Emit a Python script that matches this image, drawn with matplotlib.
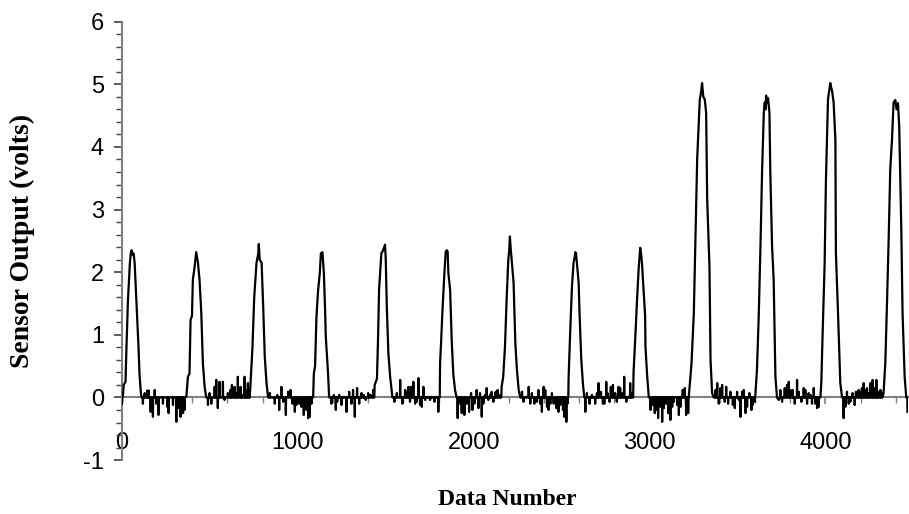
import numpy as np
import matplotlib
matplotlib.use("Agg")
import matplotlib.pyplot as plt
from matplotlib.ticker import MultipleLocator

plt.rcParams["axes.unicode_minus"] = False

# ---- peaks: vertices (data number, volts) ----
peak_x = [
    [0, 3, 6, 10, 20, 25, 34, 45, 50, 55, 60, 66, 72, 81, 94, 100, 108, 112],
    [366, 375, 384, 390, 398, 403, 413, 422, 432, 441, 451, 460, 470, 479],
    [722, 730, 742, 752, 765, 775, 778, 783, 794, 803, 812, 822, 831],
    [1087, 1091, 1098, 1102, 1106, 1115, 1125, 1131, 1140, 1148, 1155, 1159, 1166, 1172, 1178],
    [1435, 1437, 1450, 1456, 1462, 1475, 1485, 1496, 1500, 1506, 1515, 1525, 1538],
    [1807, 1809, 1815, 1822, 1833, 1841, 1848, 1852, 1856, 1866, 1875, 1884, 1894, 1903],
    [2157, 2159, 2168, 2178, 2188, 2197, 2202, 2206, 2210, 2216, 2227, 2237, 2246, 2256, 2265],
    [2538, 2540, 2550, 2559, 2568, 2575, 2578, 2582, 2587, 2597, 2602, 2612, 2621, 2629],
    [2907, 2909, 2919, 2928, 2938, 2947, 2952, 2957, 2966, 2975, 2977, 2987, 2996],
    [3223, 3239, 3252, 3261, 3271, 3286, 3292, 3299, 3306, 3314, 3322, 3328, 3341, 3347, 3356, 3365],
    [3602, 3611, 3621, 3631, 3640, 3650, 3655, 3660, 3663, 3668, 3674, 3682, 3687, 3697, 3706, 3716, 3725, 3735],
    [3972, 3977, 3984, 3996, 4003, 4015, 4022, 4028, 4033, 4038, 4047, 4057, 4060, 4072, 4085, 4095],
    [4330, 4332, 4341, 4350, 4360, 4369, 4379, 4388, 4398, 4405, 4413, 4420, 4432, 4439, 4451, 4460, 4466, 4467],
]
peak_y = [
    [-0.1, 0, 0.05, 0.2, 0.25, 0.76, 1.56, 2.15, 2.3, 2.35, 2.28, 2.3, 2.15, 1.6, 0.8, 0.35, 0.05, 0],
    [0.01, 0.33, 0.38, 1.24, 1.3, 1.88, 2.09, 2.32, 2.15, 1.88, 1.35, 0.55, 0.17, 0],
    [0, 0.17, 0.8, 1.6, 2.15, 2.3, 2.45, 2.2, 2.15, 1.45, 0.65, 0.23, 0],
    [0, 0.38, 0.5, 0.92, 1.29, 1.7, 1.99, 2.3, 2.32, 1.99, 1.4, 0.97, 0.65, 0.38, 0],
    [0, 0.2, 0.3, 0.92, 1.72, 2.3, 2.35, 2.44, 2.2, 1.45, 0.7, 0.33, 0],
    [0, 0.55, 0.9, 1.35, 1.96, 2.33, 2.35, 2.33, 1.99, 1.72, 0.92, 0.38, 0.12, 0],
    [0, 0.17, 0.33, 0.81, 1.61, 2.2, 2.35, 2.57, 2.4, 2.2, 1.83, 0.87, 0.44, 0.12, 0],
    [0, 0.33, 1.13, 1.77, 2.15, 2.25, 2.32, 2.3, 2.15, 1.83, 1.35, 0.6, 0.23, 0],
    [0, 0.39, 0.95, 1.5, 2.04, 2.39, 2.3, 2.15, 1.72, 1.3, 0.81, 0.33, 0],
    [0, 0.55, 1.35, 2.52, 3.8, 4.76, 4.85, 5.02, 4.8, 4.76, 4.55, 3.16, 2.09, 0.6, 0.07, 0],
    [0.04, 0.44, 1.29, 2.41, 3.59, 4.55, 4.71, 4.6, 4.82, 4.7, 4.78, 4.55, 3.59, 2.41, 1.88, 0.33, 0, -0.04],
    [0, 0.23, 0.97, 2.15, 3.43, 4.76, 4.9, 5.02, 4.95, 4.9, 4.71, 4.12, 2.31, 1.35, 0.23, 0],
    [0.05, 0.12, 0.55, 1.45, 2.52, 3.64, 4.12, 4.71, 4.75, 4.6, 4.7, 4.33, 2.68, 1.35, 0.33, 0, 0, -0.23],
]

# ---- noise spikes between the peaks ----
spike_x = [
    119, 129, 144, 152, 163, 176, 186, 195, 208, 233, 258, 265, 290, 309, 322, 333, 347, 356,
    489, 498, 508, 527, 536, 545, 555, 574, 583, 602, 617, 625, 640, 650, 659, 674, 682, 697, 706, 716, 725,
    841, 869, 883, 894, 907, 917, 932, 945, 958, 970, 983, 992, 1008, 1021, 1034, 1049, 1059, 1068, 1078,
    1191, 1205, 1216, 1224, 1235, 1248, 1261, 1277, 1292, 1305, 1314, 1324, 1337, 1349, 1362, 1375, 1386, 1400, 1413, 1428,
    1549, 1563, 1582, 1595, 1610, 1619, 1629, 1638, 1644, 1657, 1667, 1676, 1686, 1695, 1705, 1714, 1724, 1739, 1752, 1761, 1777, 1790, 1799,
    1909, 1922, 1932, 1947, 1960, 1974, 1985, 1993, 2004, 2017, 2027, 2036, 2046, 2055, 2064, 2074, 2083, 2093, 2102, 2112, 2125, 2136, 2150,
    2275, 2284, 2299, 2313, 2322, 2331, 2345, 2360, 2369, 2379, 2388, 2398, 2407, 2417, 2426, 2436, 2445, 2455, 2470, 2483, 2493, 2508, 2515, 2527, 2534,
    2635, 2644, 2659, 2672, 2682, 2691, 2701, 2710, 2724, 2735, 2743, 2754, 2761, 2773, 2780, 2792, 2805, 2814, 2824, 2833, 2843, 2856, 2868, 2881, 2890, 2900,
    3006, 3019, 3030, 3038, 3049, 3063, 3072, 3082, 3095, 3106, 3119, 3129, 3138, 3157, 3167, 3176, 3189, 3201, 3208, 3220,
    3375, 3385, 3394, 3403, 3413, 3428, 3436, 3447, 3460, 3474, 3485, 3498, 3508, 3517, 3527, 3536, 3546, 3555, 3568, 3580, 3587, 3599,
    3744, 3754, 3769, 3782, 3792, 3801, 3814, 3826, 3839, 3849, 3864, 3877, 3886, 3896, 3905, 3915, 3924, 3934, 3943, 3953, 3962,
    4104, 4114, 4123, 4133, 4142, 4155, 4167, 4174, 4189, 4199, 4208, 4218, 4227, 4237, 4246, 4256, 4269, 4280, 4290, 4299, 4313, 4322,
]
spike_y = [
    -0.1, 0.07, 0.11, 0.11, -0.23, -0.31, 0.12, -0.1, -0.28, -0.1, -0.15, -0.25, -0.12, -0.39, -0.17, -0.31, -0.25, -0.2,
    -0.12, 0.07, -0.1, 0.17, 0.28, -0.17, 0.25, 0.25, -0.04, 0.07, 0.12, 0.2, 0.17, 0.07, 0.33, 0.17, 0.04, 0.33, 0.12, 0.23, 0.1,
    0.07, -0.1, 0.04, -0.2, 0.17, -0.07, -0.28, 0.09, 0.12, -0.1, -0.23, -0.12, -0.1, -0.15, -0.28, -0.2, -0.33, -0.31, -0.1,
    -0.1, 0.04, -0.2, -0.07, 0.04, -0.12, 0.01, -0.23, 0.09, -0.1, 0.12, -0.31, 0.15, -0.1, 0.07, 0.04, -0.04, 0.07, 0.04, 0.12,
    -0.07, 0.07, 0.28, -0.1, 0.12, 0.09, 0.17, -0.07, 0.17, 0.25, -0.1, -0.07, 0.31, -0.12, -0.15, 0.17, -0.04, 0.01, -0.04, 0.01, -0.07, 0.01, -0.23,
    -0.33, -0.1, -0.25, -0.28, -0.1, -0.23, 0.07, -0.2, -0.1, 0.12, -0.17, 0.07, -0.31, -0.1, 0.04, 0.15, -0.04, 0.04, 0.09, -0.07, 0.09, 0.12, 0.04,
    0.09, -0.07, 0.01, 0.17, -0.1, 0.07, -0.1, -0.07, 0.12, -0.1, -0.23, 0.17, 0.12, -0.15, -0.2, -0.1, 0.07, -0.1, -0.17, -0.23, -0.12, -0.2, -0.31, -0.39, -0.1,
    -0.23, 0.07, -0.1, 0.04, 0.01, -0.1, 0.07, 0.23, 0.09, -0.1, -0.1, 0.25, 0.07, -0.07, 0.17, 0.2, 0.07, -0.07, 0.17, 0.15, 0.07, 0.33, -0.07, 0.01, 0.23, 0.07,
    -0.2, -0.12, -0.25, -0.2, -0.33, -0.15, -0.39, -0.17, -0.1, -0.25, -0.36, -0.15, -0.07, -0.12, -0.28, -0.15, 0.12, 0.15, -0.28, -0.25,
    0.12, 0.23, -0.1, 0.15, 0.2, -0.07, 0.17, -0.1, 0.09, -0.12, -0.17, 0.09, -0.04, -0.31, 0.09, 0.12, -0.25, -0.15, 0.07, -0.2, -0.12, -0.07,
    0.12, -0.07, 0.15, 0.2, 0.25, 0.12, 0.12, -0.1, 0.28, 0.09, -0.07, 0.15, 0.12, -0.1, 0.07, 0.04, -0.1, 0.15, -0.1, -0.17, -0.15,
    -0.33, -0.15, 0.09, -0.1, -0.07, 0.07, -0.12, 0.09, 0.12, 0.09, 0.15, 0.23, 0.12, 0.15, 0.07, 0.23, 0.28, 0.15, 0.28, 0.09, 0.12, 0.07,
]

# ---- assemble the trace ----
pts = []
for px, py in zip(peak_x, peak_y):
    pts += list(zip(px, py))
for sx, sy in zip(spike_x, spike_y):
    pts += [(sx - 1, 0.0), (sx, sy), (sx + 1, 0.0)]
pts.sort(key=lambda p: p[0])
trace_x = np.array([p[0] for p in pts])
trace_y = np.array([p[1] for p in pts])

# ---- figure ----
fig = plt.figure(figsize=(9.09, 5.14), dpi=100)
ax = fig.add_axes([0.1342, 0.1049, 0.8647, 0.8529])

ax.plot(trace_x, trace_y, color="black", lw=1.6, zorder=3)

ax.set_xlim(0, 4470)
ax.set_ylim(-1, 6)

grey = "#808080"
ax.spines["top"].set_visible(False)
ax.spines["right"].set_visible(False)
ax.spines["bottom"].set_position(("data", 0))
ax.spines["left"].set_color(grey)
ax.spines["bottom"].set_color(grey)
ax.spines["left"].set_linewidth(1.5)
ax.spines["bottom"].set_linewidth(1.5)

ax.xaxis.set_major_locator(MultipleLocator(1000))
ax.xaxis.set_minor_locator(MultipleLocator(200))
ax.yaxis.set_major_locator(MultipleLocator(1))
ax.yaxis.set_minor_locator(MultipleLocator(0.2))

ax.tick_params(axis="y", which="major", length=6, width=1.2, color="#404040",
               labelsize=17, pad=7)
ax.tick_params(axis="y", which="minor", length=4, width=1.0, color="#404040")
ax.tick_params(axis="x", which="major", length=5, width=1.2, color=grey,
               labelsize=17, pad=20)
ax.tick_params(axis="x", which="minor", length=4, width=1.0, color=grey)

for lab in ax.get_xticklabels() + ax.get_yticklabels():
    lab.set_fontfamily("Liberation Sans")

ax.set_xlabel("Data Number", fontfamily="Liberation Serif", fontweight="bold",
              fontsize=17, va="center")
ax.xaxis.set_label_coords(0.49, -0.091)
ax.set_ylabel("Sensor Output (volts)", fontfamily="Liberation Serif",
              fontweight="bold", fontsize=20, va="center")
ax.yaxis.set_label_coords(-0.127, 0.5)

fig.savefig("out.png", dpi=100)
